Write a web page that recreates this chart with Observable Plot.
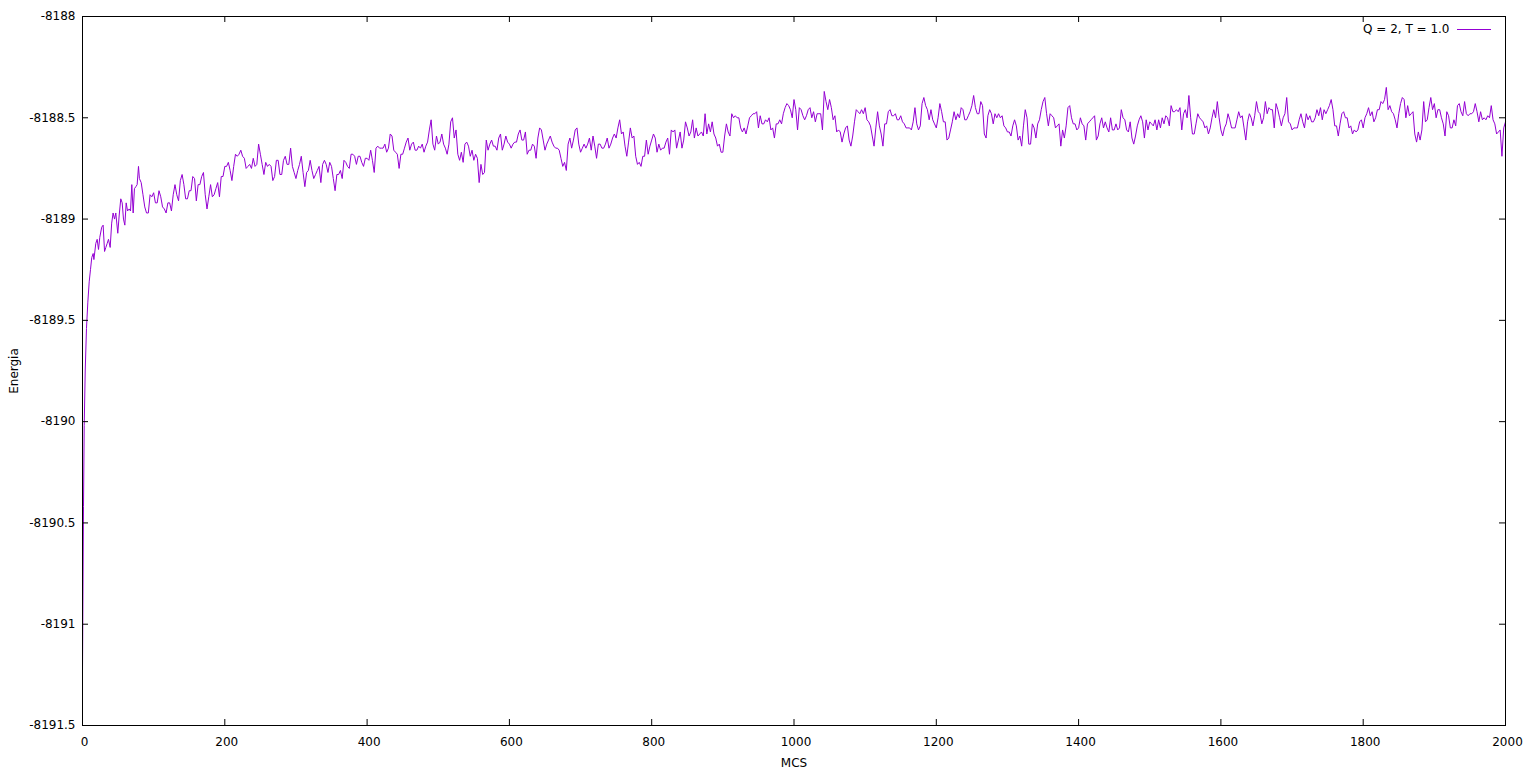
<!DOCTYPE html>
<html><head><meta charset="utf-8">
<script src="https://cdn.jsdelivr.net/npm/d3@7"></script>
<script src="https://cdn.jsdelivr.net/npm/@observablehq/plot@0.6"></script>
<style>body{margin:0;background:#fff;} #chart svg{display:block}</style>
</head><body><div id="chart"></div>
<script>
const seriesLabel = "Q = 2, T = 1.0";
const xLabel = "MCS";
const yLabel = "Energia";
const xTicks = [0, 200, 400, 600, 800, 1000, 1200, 1400, 1600, 1800, 2000];
const yTicks = [-8191.5, -8191, -8190.5, -8190, -8189.5, -8189, -8188.5, -8188];

// first steps of the run (read at irregular MCS positions)
const earlyMcs = [0, 1.4, 2.4, 3.8, 5.6, 7.5, 9.4, 11.2, 13, 15, 16, 18.7, 20.6, 22.5, 24.3, 27, 29, 31, 32.8, 34.7, 36.5, 38.9, 41, 43, 45, 46.8, 49.6, 51.6, 53.8, 55.8, 57.6, 59.5, 61.4, 63.3, 65.6, 67.5, 69.3, 71.2, 73, 75, 76.8, 78.7];
const earlyEnergy = [-8191.24, -8190.42, -8190.02, -8189.75, -8189.54, -8189.41, -8189.31, -8189.25, -8189.19, -8189.17, -8189.20, -8189.12, -8189.10, -8189.15, -8189.09, -8189.04, -8189.03, -8189.16, -8189.14, -8189.12, -8189.10, -8189.14, -8189.02, -8188.97, -8189.00, -8188.97, -8189.07, -8188.98, -8188.90, -8188.92, -8189.00, -8189.03, -8188.92, -8188.96, -8188.95, -8188.96, -8188.83, -8188.97, -8188.85, -8188.84, -8188.83, -8188.74];

// readings every 5 MCS from 80 to 2000
const gridStart = 80, gridStep = 5;
const gridEnergy = [
-8188.80, -8188.88, -8188.97, -8188.88,
-8188.87, -8188.92, -8188.89, -8188.95, -8188.92, -8188.96, -8188.83, -8188.91, -8188.78, -8188.90, -8188.86, -8188.79, -8188.91, -8188.83, -8188.77, -8188.95, -8188.83, -8188.88, -8188.82, -8188.79,
-8188.74, -8188.72, -8188.81, -8188.68, -8188.68, -8188.69, -8188.75, -8188.73, -8188.70, -8188.73, -8188.68, -8188.78, -8188.74, -8188.74, -8188.79, -8188.71, -8188.78, -8188.69, -8188.73, -8188.74,
-8188.80, -8188.73, -8188.77, -8188.77, -8188.71, -8188.80, -8188.76, -8188.82, -8188.71, -8188.77, -8188.74, -8188.86, -8188.78, -8188.80, -8188.72, -8188.75, -8188.68, -8188.73, -8188.69, -8188.74,
-8188.70, -8188.66, -8188.77, -8188.64, -8188.65, -8188.63, -8188.65, -8188.59, -8188.67, -8188.75, -8188.68, -8188.62, -8188.66, -8188.62, -8188.66, -8188.65, -8188.67, -8188.62, -8188.51, -8188.66,
-8188.63, -8188.58, -8188.65, -8188.63, -8188.50, -8188.56, -8188.71, -8188.72, -8188.62, -8188.69, -8188.71, -8188.70, -8188.73, -8188.77, -8188.66, -8188.61, -8188.64, -8188.60, -8188.66, -8188.59,
-8188.63, -8188.63, -8188.62, -8188.56, -8188.61, -8188.68, -8188.66, -8188.64, -8188.60, -8188.56, -8188.66, -8188.61, -8188.62, -8188.65, -8188.66, -8188.74, -8188.76, -8188.60, -8188.61, -8188.55,
-8188.67, -8188.63, -8188.63, -8188.66, -8188.64, -8188.63, -8188.65, -8188.63, -8188.65, -8188.60, -8188.60, -8188.51, -8188.57, -8188.69, -8188.55, -8188.59, -8188.73, -8188.74, -8188.69, -8188.68,
-8188.61, -8188.60, -8188.63, -8188.65, -8188.62, -8188.68, -8188.57, -8188.65, -8188.57, -8188.61, -8188.55, -8188.57, -8188.60, -8188.59, -8188.57, -8188.48, -8188.53, -8188.52, -8188.60, -8188.63,
-8188.67, -8188.53, -8188.59, -8188.50, -8188.50, -8188.55, -8188.55, -8188.54, -8188.49, -8188.48, -8188.55, -8188.53, -8188.51, -8188.50, -8188.55, -8188.53, -8188.51, -8188.48, -8188.43, -8188.46,
-8188.41, -8188.56, -8188.46, -8188.51, -8188.46, -8188.50, -8188.52, -8188.48, -8188.56, -8188.42, -8188.41, -8188.51, -8188.57, -8188.57, -8188.58, -8188.54, -8188.64, -8188.52, -8188.47, -8188.46,
-8188.45, -8188.52, -8188.59, -8188.55, -8188.54, -8188.64, -8188.53, -8188.46, -8188.49, -8188.51, -8188.49, -8188.53, -8188.55, -8188.56, -8188.45, -8188.56, -8188.43, -8188.44, -8188.51, -8188.51,
-8188.55, -8188.43, -8188.52, -8188.61, -8188.56, -8188.47, -8188.48, -8188.45, -8188.51, -8188.49, -8188.44, -8188.45, -8188.48, -8188.44, -8188.60, -8188.46, -8188.53, -8188.50, -8188.50, -8188.54,
-8188.57, -8188.59, -8188.51, -8188.61, -8188.64, -8188.46, -8188.63, -8188.53, -8188.60, -8188.51, -8188.42, -8188.48, -8188.48, -8188.50, -8188.54, -8188.64, -8188.60, -8188.45, -8188.50, -8188.53,
-8188.55, -8188.53, -8188.61, -8188.52, -8188.50, -8188.61, -8188.53, -8188.55, -8188.55, -8188.50, -8188.56, -8188.56, -8188.46, -8188.51, -8188.57, -8188.60, -8188.59, -8188.51, -8188.52, -8188.51,
-8188.52, -8188.54, -8188.56, -8188.55, -8188.53, -8188.50, -8188.44, -8188.47, -8188.47, -8188.56, -8188.46, -8188.39, -8188.58, -8188.53, -8188.50, -8188.52, -8188.54, -8188.55, -8188.46, -8188.42,
-8188.56, -8188.55, -8188.48, -8188.55, -8188.55, -8188.47, -8188.49, -8188.61, -8188.48, -8188.54, -8188.42, -8188.48, -8188.50, -8188.48, -8188.46, -8188.55, -8188.46, -8188.54, -8188.48, -8188.52,
-8188.56, -8188.55, -8188.51, -8188.52, -8188.48, -8188.49, -8188.52, -8188.46, -8188.45, -8188.46, -8188.46, -8188.41, -8188.54, -8188.59, -8188.48, -8188.50, -8188.55, -8188.58, -8188.57, -8188.52,
-8188.55, -8188.48, -8188.49, -8188.52, -8188.46, -8188.42, -8188.41, -8188.46, -8188.47, -8188.51, -8188.48, -8188.40, -8188.50, -8188.49, -8188.47, -8188.62, -8188.61, -8188.42, -8188.51, -8188.40,
-8188.43, -8188.46, -8188.50, -8188.59, -8188.49, -8188.55, -8188.54, -8188.43, -8188.49, -8188.48, -8188.48, -8188.47, -8188.47, -8188.47, -8188.50, -8188.49, -8188.44, -8188.53, -8188.57, -8188.69,
-8188.52
];

// readings half-way between those, every 5 MCS from 82.5 to 1997.5
const midStart = 82.5, midStep = 5;
const midEnergy = [
-8188.82, -8188.94, -8188.97, -8188.89,
-8188.92, -8188.86, -8188.94, -8188.97, -8188.92, -8188.88, -8188.88, -8188.81, -8188.83, -8188.90, -8188.86, -8188.80, -8188.83, -8188.79, -8188.88, -8188.89, -8188.89, -8188.85, -8188.89, -8188.79,
-8188.74, -8188.76, -8188.74, -8188.69, -8188.66, -8188.70, -8188.74, -8188.75, -8188.74, -8188.63, -8188.73, -8188.72, -8188.73, -8188.81, -8188.71, -8188.78, -8188.71, -8188.73, -8188.65, -8188.77,
-8188.76, -8188.69, -8188.84, -8188.76, -8188.76, -8188.78, -8188.74, -8188.73, -8188.73, -8188.72, -8188.80, -8188.78, -8188.76, -8188.71, -8188.74, -8188.68, -8188.69, -8188.69, -8188.72, -8188.70,
-8188.71, -8188.71, -8188.65, -8188.65, -8188.65, -8188.67, -8188.58, -8188.66, -8188.68, -8188.68, -8188.65, -8188.60, -8188.63, -8188.66, -8188.64, -8188.63, -8188.64, -8188.56, -8188.63, -8188.59,
-8188.62, -8188.63, -8188.68, -8188.52, -8188.60, -8188.68, -8188.67, -8188.63, -8188.64, -8188.66, -8188.68, -8188.82, -8188.78, -8188.61, -8188.63, -8188.64, -8188.66, -8188.58, -8188.63, -8188.62,
-8188.65, -8188.62, -8188.58, -8188.61, -8188.57, -8188.66, -8188.63, -8188.70, -8188.55, -8188.61, -8188.63, -8188.59, -8188.64, -8188.65, -8188.70, -8188.72, -8188.63, -8188.65, -8188.56, -8188.63,
-8188.65, -8188.65, -8188.60, -8188.59, -8188.70, -8188.63, -8188.65, -8188.60, -8188.63, -8188.58, -8188.55, -8188.58, -8188.64, -8188.62, -8188.60, -8188.69, -8188.72, -8188.69, -8188.61, -8188.64,
-8188.58, -8188.67, -8188.66, -8188.65, -8188.60, -8188.56, -8188.56, -8188.61, -8188.65, -8188.52, -8188.59, -8188.51, -8188.55, -8188.58, -8188.59, -8188.58, -8188.57, -8188.58, -8188.64, -8188.67,
-8188.59, -8188.57, -8188.48, -8188.49, -8188.50, -8188.57, -8188.58, -8188.50, -8188.48, -8188.47, -8188.49, -8188.53, -8188.52, -8188.56, -8188.60, -8188.53, -8188.53, -8188.45, -8188.44, -8188.50,
-8188.46, -8188.45, -8188.49, -8188.49, -8188.45, -8188.47, -8188.48, -8188.48, -8188.37, -8188.46, -8188.45, -8188.49, -8188.56, -8188.62, -8188.55, -8188.61, -8188.59, -8188.46, -8188.48, -8188.48,
-8188.51, -8188.54, -8188.64, -8188.47, -8188.58, -8188.53, -8188.47, -8188.49, -8188.48, -8188.51, -8188.52, -8188.55, -8188.55, -8188.52, -8188.53, -8188.54, -8188.40, -8188.46, -8188.46, -8188.53,
-8188.50, -8188.47, -8188.52, -8188.60, -8188.52, -8188.51, -8188.50, -8188.46, -8188.51, -8188.47, -8188.39, -8188.48, -8188.42, -8188.58, -8188.49, -8188.48, -8188.48, -8188.48, -8188.49, -8188.55,
-8188.57, -8188.54, -8188.54, -8188.59, -8188.54, -8188.50, -8188.63, -8188.55, -8188.53, -8188.46, -8188.40, -8188.54, -8188.49, -8188.55, -8188.53, -8188.56, -8188.54, -8188.44, -8188.53, -8188.56,
-8188.50, -8188.54, -8188.53, -8188.51, -8188.49, -8188.59, -8188.50, -8188.52, -8188.57, -8188.56, -8188.53, -8188.55, -8188.50, -8188.56, -8188.52, -8188.63, -8188.54, -8188.49, -8188.60, -8188.56,
-8188.53, -8188.51, -8188.51, -8188.50, -8188.49, -8188.54, -8188.47, -8188.46, -8188.45, -8188.48, -8188.50, -8188.50, -8188.58, -8188.48, -8188.51, -8188.55, -8188.58, -8188.50, -8188.50, -8188.50,
-8188.59, -8188.53, -8188.51, -8188.55, -8188.51, -8188.50, -8188.55, -8188.52, -8188.50, -8188.49, -8188.47, -8188.53, -8188.42, -8188.45, -8188.46, -8188.43, -8188.50, -8188.50, -8188.40, -8188.53,
-8188.55, -8188.55, -8188.48, -8188.55, -8188.51, -8188.52, -8188.50, -8188.49, -8188.51, -8188.48, -8188.44, -8188.46, -8188.54, -8188.53, -8188.47, -8188.50, -8188.54, -8188.56, -8188.56, -8188.51,
-8188.50, -8188.45, -8188.47, -8188.50, -8188.46, -8188.43, -8188.35, -8188.44, -8188.48, -8188.55, -8188.43, -8188.41, -8188.44, -8188.48, -8188.58, -8188.57, -8188.56, -8188.52, -8188.45, -8188.46,
-8188.50, -8188.46, -8188.53, -8188.47, -8188.55, -8188.51, -8188.44, -8188.47, -8188.42, -8188.49, -8188.48, -8188.43, -8188.52, -8188.51, -8188.51, -8188.50, -8188.51, -8188.58, -8188.56, -8188.55
];

const data = earlyMcs.map((m, i) => ({mcs: m, energy: earlyEnergy[i]}))
  .concat(gridEnergy.map((e, i) => ({mcs: gridStart + i * gridStep, energy: e})))
  .concat(midEnergy.map((e, i) => ({mcs: midStart + i * midStep, energy: e})))
  .sort((a, b) => a.mcs - b.mcs);

const yMin = yTicks[0], yMax = yTicks[yTicks.length - 1];
const xMin = xTicks[0], xMax = xTicks[xTicks.length - 1];
const lineColor = "#9400d3";
const fmt = d => String(d);
const hasAxisMarks = typeof Plot.axisX === "function";

const marks = [
  Plot.line(data, {x: "mcs", y: "energy", stroke: lineColor, strokeWidth: 1}),
  Plot.ruleX(xTicks, {x: d => d, y1: yMin, y2: yMin, insetTop: -6, stroke: "black"}),
  Plot.ruleX(xTicks, {x: d => d, y1: yMax, y2: yMax, insetBottom: -6, stroke: "black"}),
  Plot.ruleY(yTicks, {y: d => d, x1: xMin, x2: xMin, insetRight: -6, stroke: "black"}),
  Plot.ruleY(yTicks, {y: d => d, x1: xMax, x2: xMax, insetLeft: -6, stroke: "black"}),
  Plot.frame({stroke: "black"}),
  Plot.text([seriesLabel], {frameAnchor: "top-right", dx: -56, dy: 13, textAnchor: "end", lineAnchor: "middle", text: d => d}),
  Plot.ruleY([yMax], {dy: 13, insetLeft: 1375, insetRight: 14, stroke: lineColor}),
  Plot.text([xLabel], {frameAnchor: "bottom", dy: 38, textAnchor: "middle", lineAnchor: "middle", text: d => d}),
  Plot.text([yLabel], {frameAnchor: "left", dx: -68, rotate: -90, textAnchor: "middle", lineAnchor: "middle", text: d => d})
];
if (hasAxisMarks) {
  marks.push(Plot.axisX(xTicks, {tickSize: 0, tickPadding: 12, tickFormat: fmt, dx: 2, label: null}));
  marks.push(Plot.axisY(yTicks, {tickSize: 0, tickPadding: 7, tickFormat: fmt, label: null}));
}

const plot = Plot.plot({
  width: 1526, height: 773,
  marginLeft: 82, marginRight: 21, marginTop: 16, marginBottom: 48,
  style: {fontFamily: "DejaVu Sans", fontSize: "12px", color: "black", background: "white"},
  x: hasAxisMarks ? {domain: [xMin, xMax]} : {domain: [xMin, xMax], ticks: xTicks, tickFormat: fmt, tickSize: 0, tickPadding: 12, label: null},
  y: hasAxisMarks ? {domain: [yMin, yMax]} : {domain: [yMin, yMax], ticks: yTicks, tickFormat: fmt, tickSize: 0, tickPadding: 7, label: null},
  marks
});
document.getElementById("chart").appendChild(plot);
</script>
</body></html>
